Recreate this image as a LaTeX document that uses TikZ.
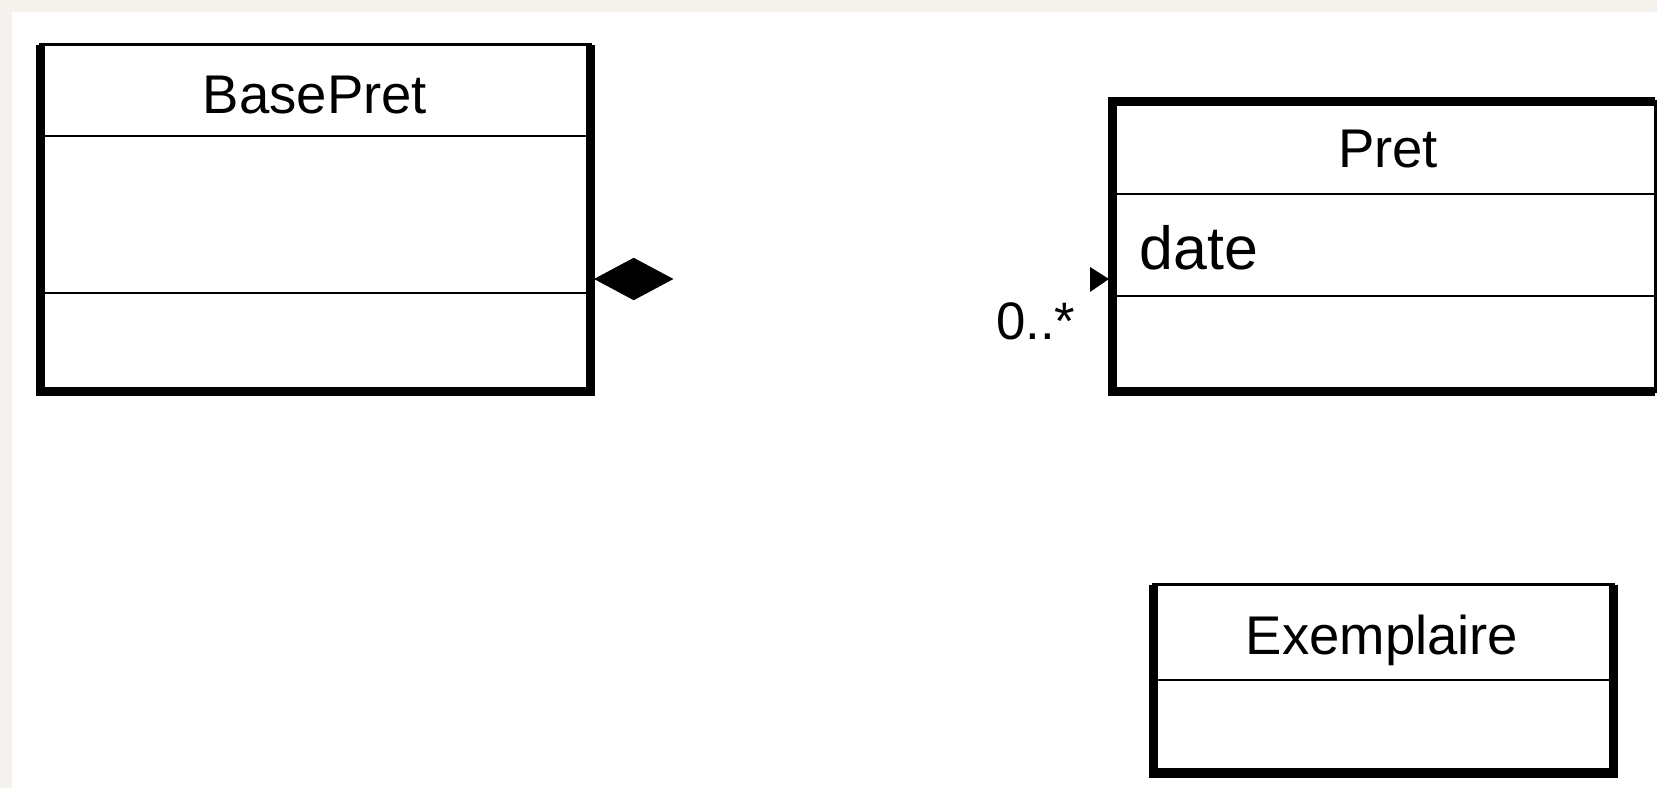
\documentclass[tikz,border=0pt]{standalone}
\usepackage{fontspec}
\setmainfont{Liberation Sans}
\usepackage{tikz}
\usetikzlibrary{shapes.geometric}
\definecolor{paper}{RGB}{245,242,237}
\tikzset{
  classbox/.style={draw, line width=0.85pt, inner sep=0pt, outer sep=0pt},
  heavy/.style={line width=2.6pt},
  divider/.style={line width=0.85pt},
  classname/.style={font=\fontsize{15.5}{18}\selectfont, anchor=base, inner sep=0pt},
  attr/.style={font=\fontsize{17.3}{20}\selectfont, anchor=base west, inner sep=0pt},
  mult/.style={font=\fontsize{15}{18}\selectfont, anchor=base east, inner sep=0pt},
  composite/.style={diamond, fill, inner sep=0pt, minimum width=0.8cm, minimum height=0.43cm, anchor=west},
}

\begin{document}
\begin{tikzpicture}[x=0.01cm, y=-0.01cm]
\useasboundingbox (0,0) rectangle (1657,788);
% Background
\fill[paper] (0,0) rectangle (1657,788);
\fill[white] (12,12) rectangle (1657,788);

% Boxes
\node[classbox, minimum width=5.49cm, minimum height=3.46cm] (basepret) at (315.5,218) {};
\node[classbox, minimum width=5.42cm, minimum height=2.89cm] (pret) at (1384,246.5) {};
\node[classbox, minimum width=4.59cm, minimum height=1.88cm] (exemplaire) at (1383.5,679) {};

% Heavy edges
\draw[heavy] (basepret.north west) -- (basepret.south west) -- (basepret.south east) -- (basepret.north east);
\draw[heavy] (pret.north east) -- (pret.north west) -- (pret.south west) -- (pret.south east);
\draw[heavy] (exemplaire.north west) -- (exemplaire.south west) -- (exemplaire.south east) -- (exemplaire.north east);

% Dividers
\draw[divider] (basepret.west |- 0,136) -- (basepret.east |- 0,136);
\draw[divider] (basepret.west |- 0,293) -- (basepret.east |- 0,293);
\draw[divider] (pret.west |- 0,194) -- (pret.east |- 0,194);
\draw[divider] (pret.west |- 0,296) -- (pret.east |- 0,296);
\draw[divider] (exemplaire.west |- 0,680) -- (exemplaire.east |- 0,680);

% Names
\node[classname] (basepret-name) at (315,114) {BasePret};
\node[classname] (pret-name) at (1388,168) {Pret};
\node[attr] (pret-date) at (1139,270) {date};
\node[classname] (exemplaire-name) at (1382,654) {Exemplaire};

% Association ends
\node[composite] (agg) at (593,279) {};
\coordinate (navig) at (1109,279);
\fill (navig) -- ++(-19,-12) -- ++(0,25) -- cycle;
\node[mult] (pret-mult) at (1076,340) {0..*};
\end{tikzpicture}
\end{document}
